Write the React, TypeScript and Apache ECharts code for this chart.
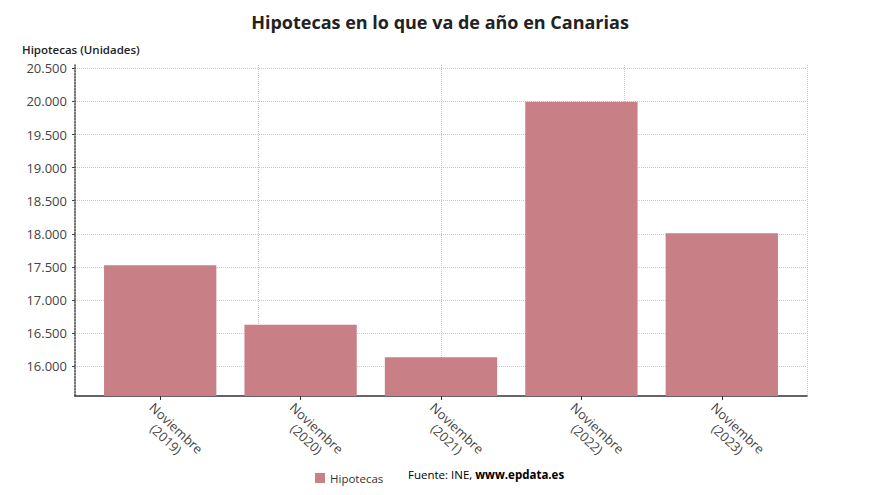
import React, { useEffect, useRef } from "react";
import * as echarts from "echarts";

const categories = [
  "Noviembre\n(2019)",
  "Noviembre\n(2020)",
  "Noviembre\n(2021)",
  "Noviembre\n(2022)",
  "Noviembre\n(2023)",
];
const hipotecas = [17525, 16625, 16135, 19995, 18010];
const yTicks = [16000, 16500, 17000, 17500, 18000, 18500, 19000, 19500, 20000, 20500];
const yMin = 15550;
const yMax = 20550;

const FONT = "'Open Sans', 'Noto Sans', sans-serif";
const BAR = "#c97f86";

function fmt(v: number) {
  return Math.round(v)
    .toString()
    .replace(/\B(?=(\d{3})+(?!\d))/g, ".");
}

export default function App() {
  const ref = useRef<HTMLDivElement>(null);
  useEffect(() => {
    if (!ref.current) return;
    const chart = echarts.init(ref.current, undefined, { renderer: "svg" });
    const top = 65;
    const bottom = 99;
    chart.setOption({
      animation: false,
      textStyle: { fontFamily: FONT },
      title: {
        text: "Hipotecas en lo que va de año en Canarias",
        left: "center",
        top: 8,
        textStyle: { fontFamily: FONT, fontSize: 18, fontWeight: "bold", color: "#222" },
      },
      grid: [
        { left: 75, right: 73, top, bottom },
        { left: 90, right: 88, top, bottom },
      ],
      xAxis: [
        {
          type: "value",
          gridIndex: 0,
          min: 0,
          max: 4,
          interval: 1,
          axisLine: { show: true, lineStyle: { color: "#333", width: 1.5 } },
          axisTick: { show: false },
          axisLabel: { show: false },
          splitLine: {
            show: true,
            showMinLine: false,
            lineStyle: { type: "dotted", color: "#c8c8c8", width: 1 },
          },
        },
        {
          type: "category",
          gridIndex: 1,
          data: categories,
          axisLine: { show: false },
          axisTick: { show: true, alignWithLabel: true, length: 4, lineStyle: { color: "#333" } },
          axisLabel: {
            rotate: -43,
            margin: 0,
            interval: 0,
            verticalAlign: "top",
            padding: [5, 0, 0, 0],
            formatter: (v: string) =>
              v
                .split("\n")
                .map((s) => `{a|${s}}`)
                .join("\n"),
            rich: {
              a: {
                align: "center",
                fontSize: 13,
                lineHeight: 15,
                color: "#444",
                fontFamily: FONT,
              },
            },
          },
          splitLine: { show: false },
        },
      ],
      yAxis: [
        {
          type: "value",
          gridIndex: 0,
          min: yMin,
          max: yMax,
          splitNumber: 10,
          minInterval: 500,
          maxInterval: 500,
          axisLine: { show: true, lineStyle: { color: "#444", width: 1.5, type: "dotted" } },
          axisTick: { show: true, length: 3, lineStyle: { color: "#444" }, customValues: yTicks },
          axisLabel: {
            show: true,
            customValues: yTicks,
            formatter: (v: number) => fmt(v),
            fontSize: 13,
            color: "#444",
            margin: 8,
            fontFamily: FONT,
          },
          splitLine: {
            show: true,
            lineStyle: { type: "dotted", color: "#c8c8c8", width: 1 },
          },
        },
        {
          type: "value",
          gridIndex: 1,
          min: yMin,
          max: yMax,
          show: false,
          splitLine: { show: false },
        },
      ],
      series: [
        {
          name: "Hipotecas",
          type: "bar",
          xAxisIndex: 1,
          yAxisIndex: 1,
          data: hipotecas,
          barCategoryGap: "20%",
          itemStyle: { color: BAR },
        },
      ],
      legend: {
        show: true,
        data: ["Hipotecas"],
        left: 310,
        top: 467,
        itemWidth: 10,
        itemHeight: 10,
        icon: "rect",
        itemGap: 5,
        textStyle: { fontFamily: FONT, fontSize: 11.5, color: "#333" },
      },
      graphic: [
        {
          type: "text",
          left: 22,
          top: 43,
          style: {
            text: "Hipotecas (Unidades)",
            font: `600 11.5px ${FONT}`,
            fill: "#222",
          },
        },
        {
          type: "text",
          left: 408,
          top: 468,
          style: {
            text: "{a|Fuente: INE, }{b|www.epdata.es}",
            rich: {
              a: { fontFamily: FONT, fontSize: 11.5, color: "#333" },
              b: { fontFamily: FONT, fontSize: 11.5, fontWeight: "bold", color: "#333" },
            },
          },
        },
      ],
    });
    return () => chart.dispose();
  }, []);
  return <div ref={ref} style={{ width: 880, height: 495, margin: -8 }} />;
}
